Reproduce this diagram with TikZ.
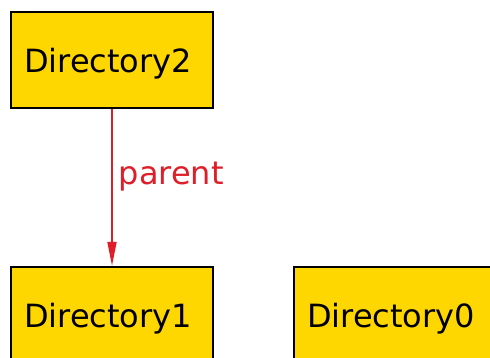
\documentclass[tikz,border=0pt]{standalone}
\usepackage{fontspec}
\setmainfont{DejaVu Sans}
\usetikzlibrary{arrows.meta}
\definecolor{boxfill}{RGB}{255,215,0}
\definecolor{edgered}{RGB}{222,30,40}
\begin{document}
\begin{tikzpicture}[x=1pt,y=-1pt,
  dirbox/.style={draw=black, line width=2pt, fill=boxfill,
    anchor=north west, inner xsep=13pt, inner ysep=0pt,
    text width=176pt, align=left, minimum height=96pt,
    text height=25pt, text depth=0pt,
    font=\fontsize{32}{38}\selectfont},
  edgelabel/.style={text=edgered, inner sep=0pt,
    font=\fontsize{32}{38}\selectfont},
  parentedge/.style={draw=edgered, line width=1.6pt,
    -{Triangle[length=24pt,width=9pt]}}]
\useasboundingbox (0,0) rectangle (490,358);
\clip (0,0) rectangle (490,358);
% directory nodes
\node[dirbox] (d2) at (10,11) {Directory2};
\node[dirbox] (d1) at (10,266) {Directory1};
\node[dirbox] (d0) at (293,266) {Directory0};
% parent link
\draw[parentedge] (d2) -- node[edgelabel, anchor=base west, xshift=6pt, yshift=3pt] {parent} (d1);
\end{tikzpicture}
\end{document}
